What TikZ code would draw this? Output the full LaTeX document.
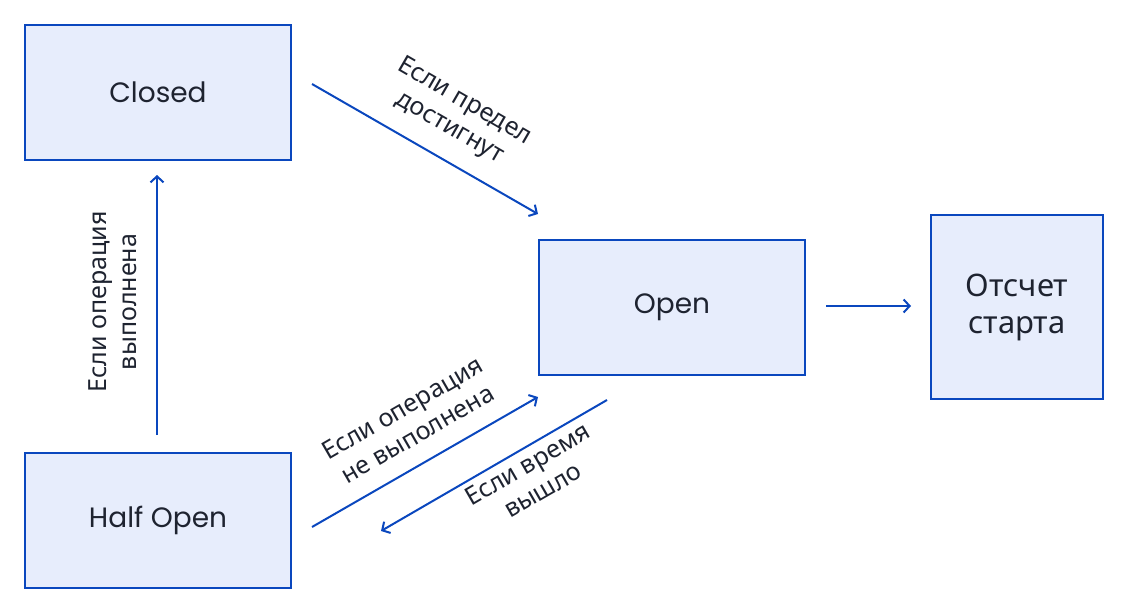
\documentclass[tikz,border=0pt]{standalone}
\usepackage{fontspec}
\setmainfont{Noto Sans}
\newfontfamily\poppins{Poppins}
\usetikzlibrary{arrows.meta}

\definecolor{bordo}{HTML}{0A47BE}
\definecolor{riemp}{HTML}{E7EDFC}
\definecolor{testo}{HTML}{1E2330}

\tikzset{
  stato/.style={draw=bordo,fill=riemp,line width=2pt,text=testo,align=center,
    inner sep=0pt,font=\fontsize{28}{37}\selectfont},
  freccia/.style={draw=bordo,line width=2pt,
    -{Straight Barb[length=6pt,width=13pt]}},
  etich/.style={text=testo,align=center,inner sep=1pt,font=\fontsize{25}{30}\selectfont}
}

\begin{document}
\begin{tikzpicture}[x=1pt,y=-1pt]
    \useasboundingbox (0,0) rectangle (1128,614);

    % Disegna gli stati
    \node[stato,minimum width=266pt,minimum height=135pt] (closed) at (158,92.5) {\poppins Closed};
    \node[stato,minimum width=266pt,minimum height=135pt] (open) at (672,307) {\poppins Open};
    \node[stato,minimum width=266pt,minimum height=135pt] (halfopen) at (158,520.5) {\poppins Half Open};
    \node[stato,minimum width=172pt,minimum height=184pt,font=\fontsize{31}{37}\selectfont] (start) at (1017,307) {Отсчет\\старта};

    % Estremi delle frecce
    \coordinate (c1) at (312,84);    \coordinate (o1) at (538,214);
    \coordinate (h1) at (157,435);   \coordinate (c2) at (157,175);
    \coordinate (h2) at (312,527);   \coordinate (o2) at (538,397);
    \coordinate (o3) at (607,400);   \coordinate (h3) at (381,531);
    \coordinate (o4) at (826,306);   \coordinate (s1) at (911,306);

    % Disegna le frecce
    \draw[freccia] (c1) -- (o1);
    \draw[freccia] (h1) -- (c2);
    \draw[freccia] (h2) -- (o2);
    \draw[freccia] (o3) -- (h3);
    \draw[freccia] (o4) -- (s1);

    % Etichette delle frecce
    \node[etich,rotate=-30] (l1) at (457,115) {Если предел\\достигнут};
    \node[etich,rotate=90] (l2) at (113,302) {Если операция\\выполнена};
    \node[etich,rotate=30] (l3) at (410,421) {Если операция\\не выполнена};
    \node[etich,rotate=30] (l4) at (535,477) {Если время\\вышло};

\end{tikzpicture}
\end{document}
